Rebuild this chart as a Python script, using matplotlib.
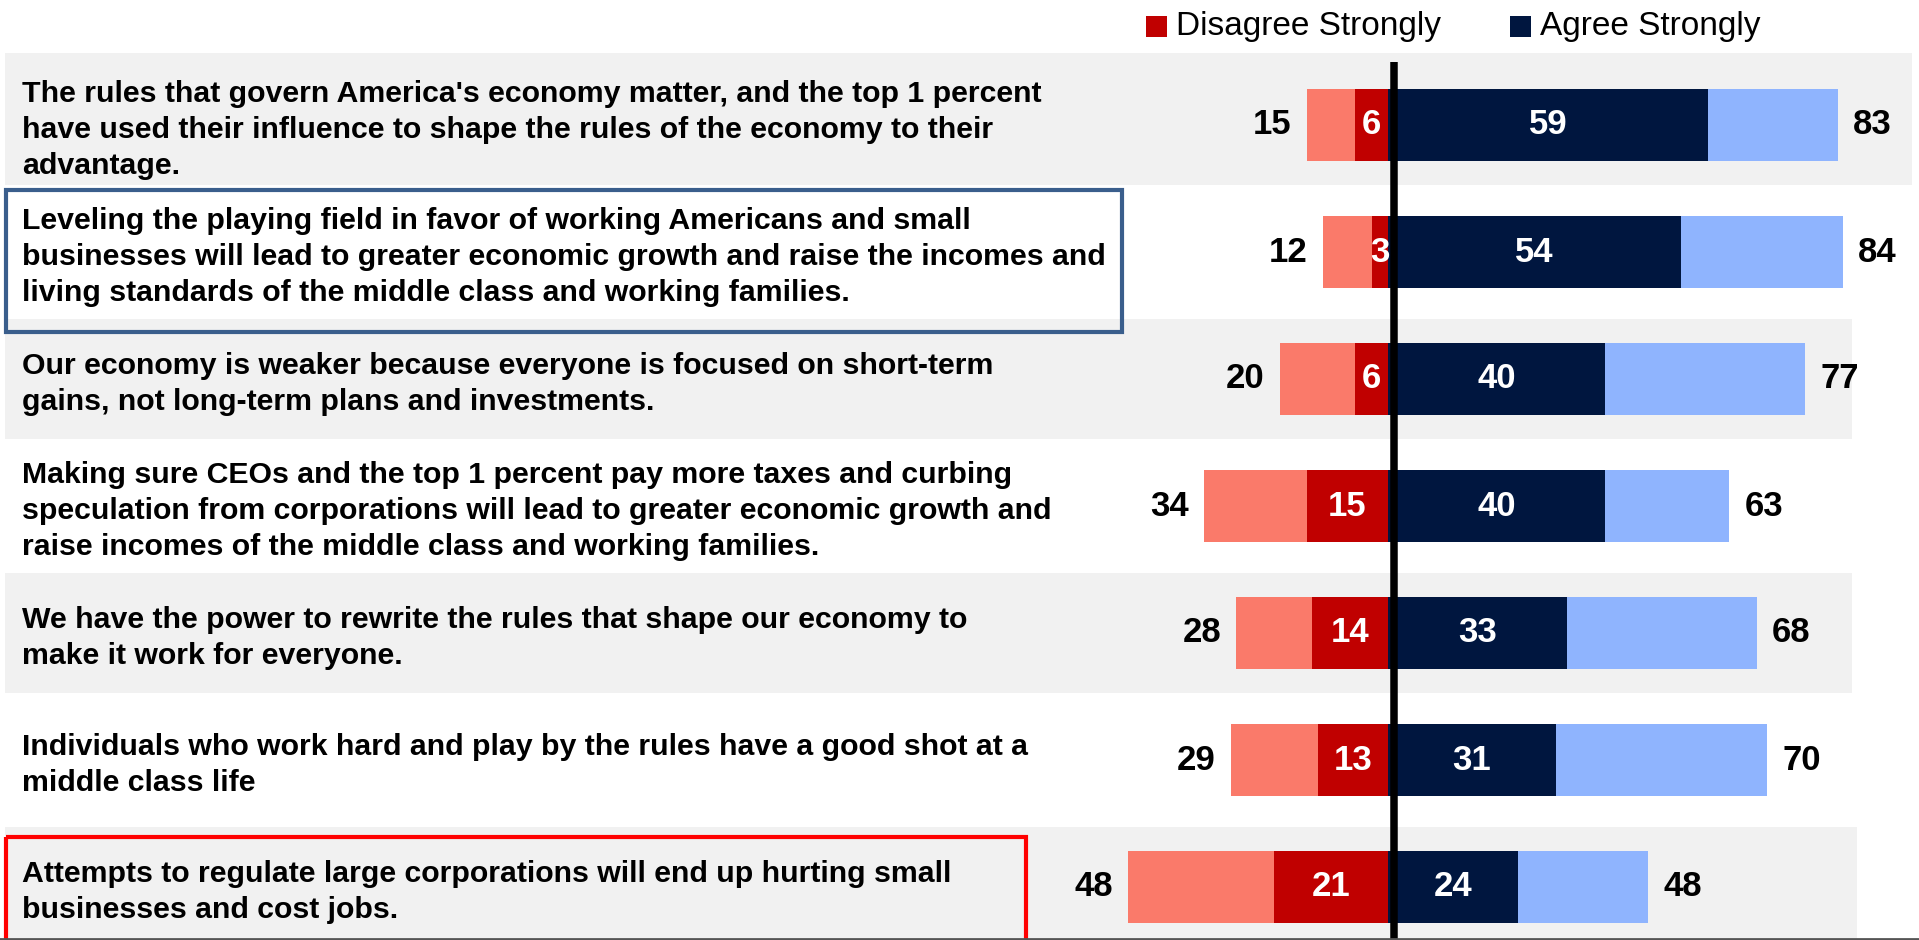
import matplotlib
matplotlib.use("Agg")
import matplotlib.pyplot as plt
from matplotlib.patches import Rectangle

# survey statements, top to bottom
statements = [
    "The rules that govern America's economy matter, and the top 1 percent\n"
    "have used their influence to shape the rules of the economy to their\n"
    "advantage.",
    "Leveling the playing field in favor of working Americans and small\n"
    "businesses will lead to greater economic growth and raise the incomes and\n"
    "living standards of the middle class and working families.",
    "Our economy is weaker because everyone is focused on short-term\n"
    "gains, not long-term plans and investments.",
    "Making sure CEOs and the top 1 percent pay more taxes and curbing\n"
    "speculation from corporations will lead to greater economic growth and\n"
    "raise incomes of the middle class and working families.",
    "We have the power to rewrite the rules that shape our economy to\n"
    "make it work for everyone.",
    "Individuals who work hard and play by the rules have a good shot at a\n"
    "middle class life",
    "Attempts to regulate large corporations will end up hurting small\n"
    "businesses and cost jobs.",
]
disagree_total = [15, 12, 20, 34, 28, 29, 48]
disagree_strong = [6, 3, 6, 15, 14, 13, 21]
agree_strong = [59, 54, 40, 40, 33, 31, 24]
agree_total = [83, 84, 77, 63, 68, 70, 48]
legend_labels = ["Disagree Strongly", "Agree Strongly"]

LIGHT_RED = "#FA7A6A"
DARK_RED = "#C00000"
NAVY = "#00163F"
LIGHT_BLUE = "#8FB4FE"
BAND = "#F1F1F1"

W, H = 1919, 940
CENTER_PX = 1388      # pixel x of the zero line
PX_PER_PCT = 5.42
ROW0_PX = 125         # pixel y of first bar centre
ROW_STEP = 127

plt.rcParams["font.family"] = ["Liberation Sans", "DejaVu Sans"]


def px_x(p):
    return (p - CENTER_PX) / PX_PER_PCT


def px_y(p):
    return (p - ROW0_PX) / ROW_STEP


fig = plt.figure(figsize=(W / 100, H / 100), dpi=100)
ax = fig.add_axes([0, 0, 1, 1])
ax.set_xlim(px_x(0), px_x(W))
ax.set_ylim(px_y(H), px_y(0))
ax.axis("off")

n = len(statements)
rows = list(range(n))
half = 60 / ROW_STEP

# grey bands behind every other row
band_right = {0: 1912, 2: 1852, 4: 1852, 6: 1857}
for i, right in band_right.items():
    top = px_y(53) if i == 0 else i - half
    ax.add_patch(Rectangle((px_x(5), top), px_x(right) - px_x(5), i + half - top,
                           facecolor=BAND, edgecolor="none", zorder=0))

bar_h = 72 / ROW_STEP
ax.barh(rows, [-v for v in disagree_total], height=bar_h, color=LIGHT_RED, zorder=2)
ax.barh(rows, [-v for v in disagree_strong], height=bar_h, color=DARK_RED, zorder=3)
ax.barh(rows, agree_total, height=bar_h, color=LIGHT_BLUE, zorder=2)
ax.barh(rows, agree_strong, height=bar_h, color=NAVY, zorder=3)

num_kw = dict(fontsize=25, fontweight="bold", va="center", zorder=5)
gap = 15 / PX_PER_PCT
for i in rows:
    ax.text(-disagree_total[i] - gap, i, str(disagree_total[i]), ha="right", color="black", **num_kw)
    ax.text(agree_total[i] + gap, i, str(agree_total[i]), ha="left", color="black", **num_kw)
    ax.text(-disagree_strong[i] / 2, i, str(disagree_strong[i]), ha="center", color="white", **num_kw)
    ax.text(agree_strong[i] / 2, i, str(agree_strong[i]), ha="center", color="white", **num_kw)
    ax.text(px_x(22), i + 5 / ROW_STEP, statements[i], ha="left", va="center",
            fontsize=21.8, fontweight="bold", linespacing=1.36, zorder=5)

# highlight boxes
ax.add_patch(Rectangle((px_x(6), px_y(190)), px_x(1122) - px_x(6), px_y(332) - px_y(190),
                       facecolor="none", edgecolor="#3A5E8C", lw=3, zorder=6))
ax.add_patch(Rectangle((px_x(6), px_y(837)), px_x(1026) - px_x(6), px_y(945) - px_y(837),
                       facecolor="none", edgecolor="#FF0000", lw=3, zorder=6))

# zero line
ax.plot([px_x(1394), px_x(1394)], [px_y(62), px_y(H)], color="black", lw=5.4, zorder=7,
        solid_capstyle="butt")
ax.axhline(px_y(H - 1), color="#555555", lw=2, zorder=7)

# legend
for x0, col, lab in [(1146, DARK_RED, legend_labels[0]), (1510, NAVY, legend_labels[1])]:
    ax.add_patch(Rectangle((px_x(x0), px_y(16)), 21 / PX_PER_PCT, px_y(37) - px_y(16),
                           facecolor=col, edgecolor="none"))
    ax.text(px_x(x0 + 30), px_y(27), lab, ha="left", va="center", fontsize=24, color="black")

fig.savefig("out.png", dpi=100)
